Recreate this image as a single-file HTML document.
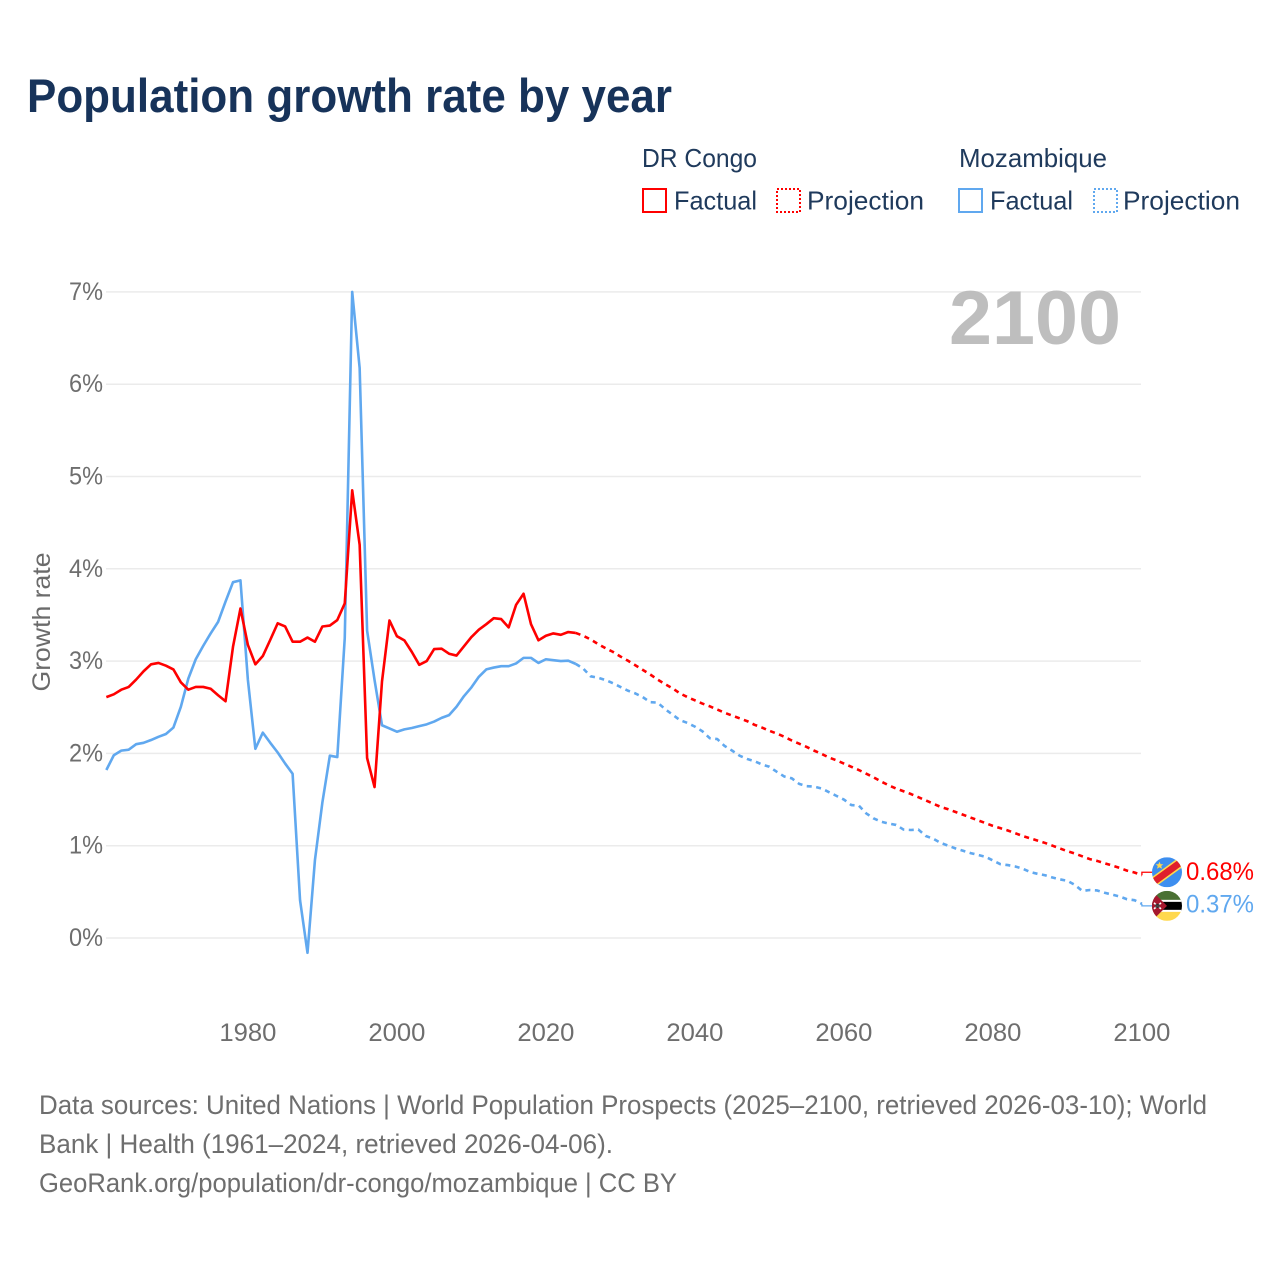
<!DOCTYPE html>
<html lang="en">
<head>
<meta charset="utf-8">
<title>Population growth rate by year</title>
<style>
html,body{margin:0;padding:0;background:#fff;width:1280px;height:1280px;overflow:hidden}
svg{display:block}
text{font-family:"Liberation Sans",sans-serif}
</style>
</head>
<body>
<svg id="chart" xmlns="http://www.w3.org/2000/svg" width="1280" height="1280" viewBox="0 0 1280 1280">
  <defs>
    <clipPath id="clip-flag-a"><circle cx="15" cy="15" r="15"/></clipPath>
    <clipPath id="clip-flag-b"><circle cx="15" cy="15" r="15"/></clipPath>
  </defs>
  <rect x="0" y="0" width="1280" height="1280" fill="#fff"/>
  <text x="27" y="112" font-size="47" font-weight="700" fill="#17335a" textLength="645" lengthAdjust="spacingAndGlyphs">Population growth rate by year</text>

  <g font-size="26" fill="#1f3a5c">
    <text x="642" y="167" textLength="115" lengthAdjust="spacingAndGlyphs">DR Congo</text>
    <rect x="643" y="189" width="23" height="23" fill="none" stroke="#ff0000" stroke-width="2"/>
    <text x="674" y="209.5" textLength="83" lengthAdjust="spacingAndGlyphs">Factual</text>
    <rect x="777" y="189" width="23" height="23" fill="none" stroke="#ff0000" stroke-width="2" stroke-dasharray="2 2"/>
    <text x="807" y="209.5" textLength="117" lengthAdjust="spacingAndGlyphs">Projection</text>
    <text x="959" y="167" textLength="148" lengthAdjust="spacingAndGlyphs">Mozambique</text>
    <rect x="959" y="189" width="23" height="23" fill="none" stroke="#60a8ef" stroke-width="2"/>
    <text x="990" y="209.5" textLength="83" lengthAdjust="spacingAndGlyphs">Factual</text>
    <rect x="1094" y="189" width="23" height="23" fill="none" stroke="#60a8ef" stroke-width="2" stroke-dasharray="2 2"/>
    <text x="1123" y="209.5" textLength="117" lengthAdjust="spacingAndGlyphs">Projection</text>
  </g>

  <g id="grid"></g>
  <text x="949" y="344" font-size="76" font-weight="700" fill="#bebebe" textLength="172" lengthAdjust="spacingAndGlyphs">2100</text>
  <text transform="translate(50,622) rotate(-90)" text-anchor="middle" font-size="25" fill="#6b6b6b" textLength="139" lengthAdjust="spacingAndGlyphs">Growth rate</text>
  <g id="y-ticks"></g>
  <g id="x-ticks"></g>
  <g id="series"></g>

  <g id="flag-dr-congo">
    <g clip-path="url(#clip-flag-a)">
      <rect width="30" height="30" fill="#3d8eef"/>
      <rect x="-6" y="10" width="42" height="10" fill="#ffd84d" transform="rotate(-36 15 15)"/>
      <rect x="-6" y="11.6" width="42" height="6.8" fill="#e0202c" transform="rotate(-36 15 15)"/>
      <polygon points="7.5,4.5 8.6,7 11.3,7 9.2,8.8 10,11.5 7.5,10 5,11.5 5.8,8.8 3.7,7 6.4,7" fill="#ffd84d"/>
    </g>
  </g>
  <g id="flag-mozambique">
    <g clip-path="url(#clip-flag-b)">
      <rect width="30" height="10" fill="#4a7033"/>
      <rect y="10" width="30" height="10" fill="#000"/>
      <rect y="9" width="30" height="2" fill="#fff"/>
      <rect y="19" width="30" height="2" fill="#fff"/>
      <rect y="21" width="30" height="9" fill="#ffd84d"/>
      <polygon points="0,0 15,15 0,30" fill="#a5182e"/>
      <path d="M2 12 L9 18 M9 12 L2 18" stroke="#fff" stroke-width="1.6"/>
      <rect x="3.5" y="13" width="4" height="4" fill="#111" opacity="0.8"/>
    </g>
  </g>
  <text id="end-label-dr-congo" x="1186" font-size="25" fill="#ff0000" textLength="68" lengthAdjust="spacingAndGlyphs"></text>
  <text id="end-label-mozambique" x="1186" font-size="25" fill="#60a8ef" textLength="68" lengthAdjust="spacingAndGlyphs"></text>

  <g font-size="27" fill="#6e6e6e">
    <text x="39" y="1114" textLength="1168" lengthAdjust="spacingAndGlyphs">Data sources: United Nations | World Population Prospects (2025–2100, retrieved 2026-03-10); World</text>
    <text x="39" y="1153" textLength="574" lengthAdjust="spacingAndGlyphs">Bank | Health (1961–2024, retrieved 2026-04-06).</text>
    <text x="39" y="1192" textLength="638" lengthAdjust="spacingAndGlyphs">GeoRank.org/population/dr-congo/mozambique | CC BY</text>
  </g>
</svg>
<script>
const yTicks = [0, 1, 2, 3, 4, 5, 6, 7];
const xTicks = [1980, 2000, 2020, 2040, 2060, 2080, 2100];
const factualStartYear = 1961;
const projectionStartYear = 2024;

const drCongoFactual = [2.61,2.64,2.69,2.72,2.80,2.89,2.965,2.98,2.95,2.91,2.77,2.69,2.72,2.72,2.70,2.63,2.565,3.155,3.57,3.175,2.965,3.055,3.23,3.41,3.375,3.21,3.21,3.255,3.21,3.375,3.385,3.445,3.625,4.85,4.26,1.95,1.635,2.78,3.44,3.27,3.225,3.10,2.96,3.00,3.13,3.135,3.08,3.06,3.16,3.26,3.34,3.40,3.465,3.455,3.365,3.61,3.73,3.40,3.225,3.275,3.30,3.285,3.315,3.305];

const mozambiqueFactual = [1.82,1.98,2.03,2.04,2.10,2.115,2.145,2.18,2.21,2.28,2.505,2.81,3.02,3.165,3.30,3.425,3.645,3.855,3.875,2.795,2.05,2.225,2.115,2.01,1.89,1.78,0.41,-0.16,0.845,1.47,1.975,1.96,3.25,7.0,6.175,3.33,2.795,2.305,2.27,2.235,2.26,2.275,2.295,2.315,2.345,2.385,2.415,2.505,2.62,2.715,2.83,2.91,2.93,2.945,2.945,2.975,3.035,3.035,2.98,3.02,3.01,3.00,3.005,2.97];

const drCongoProjection = [3.305,3.275,3.235,3.185,3.14,3.10,3.05,3.005,2.955,2.905,2.855,2.80,2.75,2.705,2.65,2.61,2.575,2.54,2.51,2.475,2.44,2.41,2.38,2.35,2.31,2.28,2.245,2.215,2.18,2.14,2.105,2.07,2.03,1.995,1.955,1.925,1.89,1.855,1.82,1.78,1.74,1.695,1.655,1.62,1.59,1.56,1.525,1.49,1.455,1.42,1.395,1.365,1.335,1.305,1.275,1.245,1.215,1.19,1.165,1.135,1.105,1.08,1.055,1.03,1.00,0.97,0.94,0.915,0.885,0.855,0.835,0.81,0.785,0.76,0.73,0.71,0.68];

const mozambiqueProjection = [2.97,2.92,2.835,2.82,2.795,2.76,2.72,2.68,2.65,2.61,2.555,2.55,2.48,2.42,2.36,2.33,2.29,2.24,2.165,2.155,2.08,2.03,1.975,1.94,1.915,1.88,1.855,1.80,1.75,1.73,1.67,1.645,1.64,1.62,1.58,1.54,1.50,1.44,1.435,1.35,1.295,1.26,1.24,1.225,1.175,1.17,1.175,1.105,1.075,1.03,1.00,0.97,0.945,0.92,0.90,0.88,0.84,0.80,0.79,0.775,0.75,0.715,0.695,0.68,0.655,0.635,0.62,0.575,0.51,0.52,0.515,0.49,0.47,0.45,0.42,0.41,0.37];

const SVG_NS = 'http://www.w3.org/2000/svg';
const RED = '#ff0000';
const BLUE = '#60a8ef';
function xScale(year) { return 247.9 + (year - 1980) * 7.45; }
function yScale(value) { return 938 - value * 92.3; }

function make(tag, attrs, parent) {
  const el = document.createElementNS(SVG_NS, tag);
  for (const k in attrs) el.setAttribute(k, attrs[k]);
  parent.appendChild(el);
  return el;
}
function linePath(values, startYear) {
  return values.map(function (v, i) {
    return (i ? 'L' : 'M') + xScale(startYear + i).toFixed(2) + ' ' + yScale(v).toFixed(2);
  }).join(' ');
}

const gridGroup = document.getElementById('grid');
const yTickGroup = document.getElementById('y-ticks');
yTicks.forEach(function (t) {
  const line = make('line', { x1: 106, x2: 1141, y1: yScale(t), y2: yScale(t), stroke: '#ebebeb', 'stroke-width': 1.5 }, gridGroup);
  
  
  const label = make('text', { x: 103, y: yScale(t) + 8, 'text-anchor': 'end', 'font-size': 25, fill: '#6e6e6e', textLength: 34, lengthAdjust: 'spacingAndGlyphs' }, yTickGroup);
  
  
  label.textContent = t + '%';
});

const xTickGroup = document.getElementById('x-ticks');
xTicks.forEach(function (t) {
  const label = make('text', { x: xScale(t), y: 1041, 'text-anchor': 'middle', 'font-size': 25, fill: '#6e6e6e', textLength: 57, lengthAdjust: 'spacingAndGlyphs' }, xTickGroup);
  
  
  label.textContent = t;
});

const seriesGroup = document.getElementById('series');
const solidStyle = { fill: 'none', 'stroke-width': 2.6, 'stroke-linejoin': 'round' };
const dashStyle = { fill: 'none', 'stroke-width': 2.6, 'stroke-linejoin': 'round', 'stroke-dasharray': '5 4.5' };

const mozFactualLine = make('path', Object.assign({ d: linePath(mozambiqueFactual, factualStartYear), stroke: BLUE }, solidStyle), seriesGroup);



const drcFactualLine = make('path', Object.assign({ d: linePath(drCongoFactual, factualStartYear), stroke: RED }, solidStyle), seriesGroup);



const mozProjectionLine = make('path', Object.assign({ d: linePath(mozambiqueProjection, projectionStartYear), stroke: BLUE }, dashStyle), seriesGroup);



const drcProjectionLine = make('path', Object.assign({ d: linePath(drCongoProjection, projectionStartYear), stroke: RED }, dashStyle), seriesGroup);



const lastYear = projectionStartYear + drCongoProjection.length - 1;
const drcLast = drCongoProjection[drCongoProjection.length - 1];
const mozLast = mozambiqueProjection[mozambiqueProjection.length - 1];
const drcEndY = yScale(drcLast) - 3;
const mozEndY = yScale(mozLast) + 2;

const drcConnector = make('path', { d: 'M' + xScale(lastYear) + ' ' + yScale(drcLast) + ' V' + drcEndY + ' H1152', fill: 'none', stroke: RED, 'stroke-width': 1.3 }, seriesGroup);



const mozConnector = make('path', { d: 'M' + xScale(lastYear) + ' ' + yScale(mozLast) + ' V' + mozEndY + ' H1152', fill: 'none', stroke: BLUE, 'stroke-width': 1.3 }, seriesGroup);



document.getElementById('flag-dr-congo').setAttribute('transform', 'translate(1152,' + (drcEndY - 15) + ')');
document.getElementById('flag-mozambique').setAttribute('transform', 'translate(1152,' + (mozEndY - 15) + ')');

const drcLabel = document.getElementById('end-label-dr-congo');
drcLabel.setAttribute('y', drcEndY + 8);
drcLabel.textContent = drcLast.toFixed(2) + '%';
const mozLabel = document.getElementById('end-label-mozambique');
mozLabel.setAttribute('y', mozEndY + 6.5);
mozLabel.textContent = mozLast.toFixed(2) + '%';
</script>
</body>
</html>
